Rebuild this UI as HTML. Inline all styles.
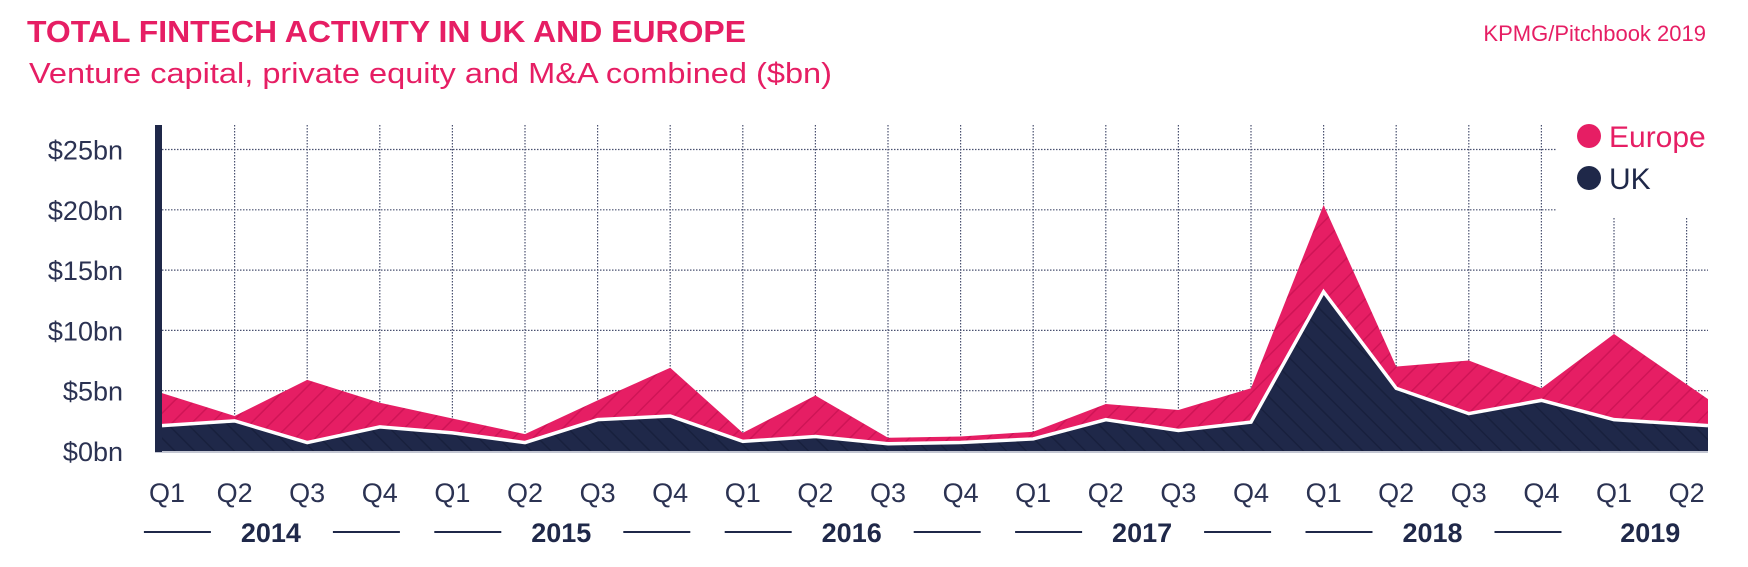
<!DOCTYPE html>
<html><head><meta charset="utf-8"><style>
html,body{margin:0;padding:0;background:#fff;}
svg{display:block;font-family:"Liberation Sans",sans-serif;}
</style></head><body>
<svg id="chart" width="1748" height="567" viewBox="0 0 1748 567">
<defs>
<pattern id="hatchEu" patternUnits="userSpaceOnUse" width="14" height="14" patternTransform="rotate(45)">
<rect width="14" height="14" fill="#e61e64"/><line x1="0" y1="0" x2="0" y2="14" stroke="#cf1456" stroke-width="3"/>
</pattern>
<pattern id="hatchUk" patternUnits="userSpaceOnUse" width="14" height="14" patternTransform="rotate(-45)">
<rect width="14" height="14" fill="#1f2849"/><line x1="0" y1="0" x2="0" y2="14" stroke="#18203d" stroke-width="3"/>
</pattern>
</defs>
<text x="27" y="42" font-size="31" font-weight="bold" fill="#e61e64" textLength="719" lengthAdjust="spacingAndGlyphs">TOTAL FINTECH ACTIVITY IN UK AND EUROPE</text>
<text x="29" y="83" font-size="29" fill="#e61e64" textLength="803" lengthAdjust="spacingAndGlyphs">Venture capital, private equity and M&amp;A combined ($bn)</text>
<text x="1706" y="41" font-size="22" fill="#e61e64" text-anchor="end">KPMG/Pitchbook 2019</text>
<g id="grid"></g>
<g id="areas"></g>
<g id="axes"></g>
<g>
<circle cx="1589" cy="136" r="12" fill="#e61e64"/>
<text x="1609" y="147" font-size="30" fill="#e61e64">Europe</text>
<circle cx="1589" cy="178" r="12" fill="#1f2849"/>
<text x="1609" y="189" font-size="30" fill="#1f2849">UK</text>
</g>
</svg>
<script>
const quarters = ["Q1","Q2","Q3","Q4","Q1","Q2","Q3","Q4","Q1","Q2","Q3","Q4","Q1","Q2","Q3","Q4","Q1","Q2","Q3","Q4","Q1","Q2"];
const years = ["2014","2015","2016","2017","2018","2019"];
const europe = [4.8,2.9,5.9,4.0,2.7,1.4,4.2,6.9,1.5,4.6,1.1,1.2,1.6,3.9,3.4,5.2,20.4,7.0,7.5,5.2,9.7,4.3];
const uk = [2.1,2.5,0.7,2.0,1.5,0.7,2.6,2.9,0.8,1.2,0.6,0.7,1.0,2.6,1.7,2.4,13.2,5.2,3.1,4.2,2.6,2.1];
const yTicks = [0,5,10,15,20,25];
const yTickLabels = ["$0bn","$5bn","$10bn","$15bn","$20bn","$25bn"];

const NS = "http://www.w3.org/2000/svg";
const X0 = 162, STEP = 72.6, XR = 1708, Y0 = 451, YPX = 12.06;
const n = quarters.length;
function xs(i){ return i === n-1 ? XR : X0 + STEP*i; }
function xg(i){ return X0 + STEP*i; }
function ys(v){ return Y0 - v*YPX; }
function mk(tag, attrs, parent){ const e=document.createElementNS(NS,tag); for(const k in attrs) e.setAttribute(k,attrs[k]); parent.appendChild(e); return e; }

const grid = document.getElementById('grid');
yTicks.forEach((t,k)=>{
  if(t===0) return;
  const right = t>=20 ? 1556 : XR;
  const l = mk('line',{x1:X0,x2:right,y1:ys(t),y2:ys(t),stroke:'#4a5170','stroke-width':1.2,'stroke-dasharray':'1.5 1.5'},grid);
  
  
});
for(let i=1;i<n;i++){
  const top = i>=20 ? 218 : 125;
  const l = mk('line',{x1:xg(i),x2:xg(i),y1:top,y2:Y0,stroke:'#4a5170','stroke-width':1.2,'stroke-dasharray':'1.5 1.5'},grid);
  
  
}

const areas = document.getElementById('areas');
function areaPath(vals){
  let d = 'M'+xs(0)+','+Y0;
  vals.forEach((v,i)=>{ d += ' L'+xs(i)+','+ys(v); });
  d += ' L'+xs(n-1)+','+Y0+' Z';
  return d;
}
function linePath(vals){ return vals.map((v,i)=>(i?'L':'M')+xs(i)+','+ys(v)).join(' '); }
const eu = mk('path',{d:areaPath(europe),fill:'url(#hatchEu)'},areas);


const ukA = mk('path',{d:areaPath(uk),fill:'url(#hatchUk)'},areas);


const ukL = mk('path',{d:linePath(uk),fill:'none',stroke:'#fff','stroke-width':3.5,'stroke-linejoin':'miter'},areas);



const axes = document.getElementById('axes');
const base = mk('line',{x1:155,x2:XR,y1:Y0+1,y2:Y0+1,stroke:'#c3c6d2','stroke-width':2},axes);


const bar = mk('rect',{x:155,y:125,width:7,height:Y0-125+1,fill:'#1f2849'},axes);


yTicks.forEach((t,k)=>{
  const tx = mk('text',{x:123,y:ys(t)+10,'font-size':27,fill:'#2b3252','text-anchor':'end'},axes);
  tx.textContent = yTickLabels[k];
  
  
});
quarters.forEach((q,i)=>{
  const cx = i===0 ? xg(0)+5 : xg(i);
  const tx = mk('text',{x:cx,y:502,'font-size':27,fill:'#2b3252','text-anchor':'middle'},axes);
  tx.textContent = q;
  
  
});
years.forEach((yr,k)=>{
  const last = k===years.length-1;
  const cx = last ? (xg(4*k)+xg(4*k+1))/2 : (xg(4*k+1)+xg(4*k+2))/2;
  const tx = mk('text',{x:cx,y:542,'font-size':27,'font-weight':'bold',fill:'#1f2849','text-anchor':'middle'},axes);
  tx.textContent = yr;
  
  
  if(!last){
    const l1 = mk('line',{x1:cx-127,x2:cx-60,y1:532,y2:532,stroke:'#1f2849','stroke-width':2},axes);
    
    
    const l2 = mk('line',{x1:cx+62,x2:cx+129,y1:532,y2:532,stroke:'#1f2849','stroke-width':2},axes);
    
    
  }
});
</script>
</body></html>
